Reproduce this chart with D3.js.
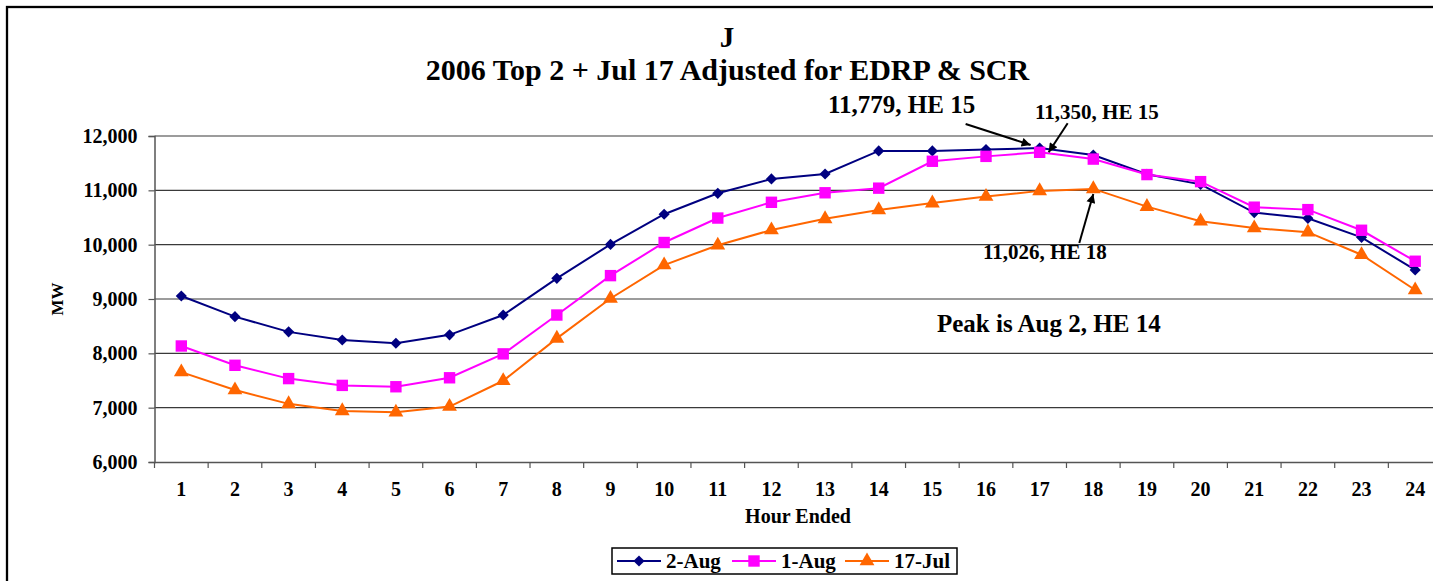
<!DOCTYPE html>
<html>
<head>
<meta charset="utf-8">
<script src="https://cdn.jsdelivr.net/npm/d3@7"></script>
<style>
  body { margin: 0; background: #fff; }
  svg { display: block; font-family: "Liberation Serif", "Times New Roman", serif; font-weight: bold; }
</style>
</head>
<body>
<svg id="chart"></svg>
<script>
// hours 1..24 and the three load days (MW)
var hours = d3.range(1, 25);
var seriesNames = ["2-Aug", "1-Aug", "17-Jul"];
var aug2 = [9055, 8675, 8395, 8245, 8185, 8340, 8705, 9380, 10005, 10560, 10945, 11210, 11300, 11725, 11725, 11750, 11779, 11650, 11295, 11110, 10590, 10485, 10135, 9535];
var aug1 = [8135, 7780, 7535, 7410, 7385, 7550, 7990, 8705, 9430, 10040, 10490, 10780, 10955, 11040, 11535, 11625, 11700, 11575, 11290, 11160, 10690, 10645, 10265, 9695];
var jul17 = [7655, 7325, 7070, 6940, 6915, 7020, 7495, 8275, 9010, 9625, 9990, 10270, 10475, 10640, 10765, 10885, 10990, 11026, 10700, 10430, 10305, 10230, 9815, 9165];
var yTicks = [6000, 7000, 8000, 9000, 10000, 11000, 12000];

var width = 1433, height = 581;
var svg = d3.select("#chart").attr("width", width).attr("height", height);

// outer chart border (runs off the right and bottom edges)
svg.append("rect").attr("x", 7).attr("y", 7).attr("width", 1500).attr("height", 700)
  .attr("fill", "none").attr("stroke", "#000").attr("stroke-width", 2.3);

var x = d3.scaleBand().domain(hours).range([154.5, 1442]).padding(0);
var y = d3.scaleLinear().domain([6000, 12000]).range([462, 136]);

// gridlines
svg.append("g").selectAll("line").data(yTicks.slice(1)).enter().append("line")
  .attr("x1", 154.5).attr("x2", 1442)
  .attr("y1", function (d) { return y(d); }).attr("y2", function (d) { return y(d); })
  .attr("stroke", "#3a3a3a").attr("stroke-width", 1.2);

// y axis
var yAxis = d3.axisLeft(y).tickValues(yTicks).tickSize(6).tickPadding(11).tickFormat(d3.format(","));
var gy = svg.append("g").attr("transform", "translate(154.5,0)").call(yAxis);
gy.select(".domain").attr("stroke", "#555").attr("stroke-width", 1.5);
gy.selectAll(".tick line").attr("stroke", "#555").attr("stroke-width", 1.2);
gy.selectAll("text").attr("font-size", 20).attr("font-family", "Liberation Serif").attr("fill", "#000");

// x axis: labels at band centres, ticks at band edges
var xAxis = d3.axisBottom(x).tickSize(0).tickPadding(20);
var gx = svg.append("g").attr("transform", "translate(0,462)").call(xAxis);
gx.select(".domain").attr("stroke", "#555").attr("stroke-width", 1.5);
gx.selectAll("text").attr("font-size", 20).attr("font-family", "Liberation Serif").attr("fill", "#000");
svg.append("g").selectAll("line").data(hours).enter().append("line")
  .attr("x1", function (d) { return x(d); }).attr("x2", function (d) { return x(d); })
  .attr("y1", 462).attr("y2", 468).attr("stroke", "#555").attr("stroke-width", 1.2);

// titles
svg.append("text").attr("x", 727).attr("y", 47).attr("text-anchor", "middle").attr("font-size", 29).text("J");
svg.append("text").attr("x", 727.5).attr("y", 80).attr("text-anchor", "middle").attr("font-size", 30)
  .text("2006 Top 2 + Jul 17 Adjusted for EDRP & SCR");
svg.append("text").attr("x", 798).attr("y", 523).attr("text-anchor", "middle").attr("font-size", 20).text("Hour Ended");
svg.append("text").attr("transform", "translate(63,299) rotate(-90)").attr("text-anchor", "middle")
  .attr("font-size", 17).text("MW");

// series
var series = [
  { name: seriesNames[0], values: aug2, color: "#000080", shape: d3.symbolSquare, size: 62, rot: 45 },
  { name: seriesNames[1], values: aug1, color: "#FF00FF", shape: d3.symbolSquare, size: 130, rot: 0 },
  { name: seriesNames[2], values: jul17, color: "#FF6600", shape: d3.symbolTriangle, size: 95, rot: 0 }
];
var line = d3.line()
  .x(function (d, i) { return x(hours[i]) + x.bandwidth() / 2; })
  .y(function (d) { return y(d); });

series.forEach(function (s) {
  svg.append("path").datum(s.values).attr("d", line)
    .attr("fill", "none").attr("stroke", s.color).attr("stroke-width", 2);
  svg.append("g").selectAll("path").data(s.values).enter().append("path")
    .attr("d", d3.symbol().type(s.shape).size(s.size))
    .attr("transform", function (d, i) {
      return "translate(" + (x(hours[i]) + x.bandwidth() / 2) + "," + y(d) + ") rotate(" + s.rot + ")";
    })
    .attr("fill", s.color);
});

// annotations
var defs = svg.append("defs");
defs.append("marker").attr("id", "arrow").attr("viewBox", "0 0 10 10").attr("refX", 10).attr("refY", 5)
  .attr("markerWidth", 5).attr("markerHeight", 4.5).attr("orient", "auto")
  .append("path").attr("d", "M0,0L10,5L0,10z").attr("fill", "#000");

function cx(h) { return x(h) + x.bandwidth() / 2; }
var arrows = [
  { x1: cx(17) - 74, y1: y(aug2[16]) - 24, x2: cx(17) - 9, y2: y(aug2[16]) - 3 },
  { x1: cx(17) + 28, y1: y(aug1[16]) - 29, x2: cx(17) + 9, y2: y(aug1[16]) },
  { x1: cx(18) - 14, y1: y(jul17[17]) + 54, x2: cx(18), y2: y(jul17[17]) + 5 }
];
svg.append("g").selectAll("line").data(arrows).enter().append("line")
  .attr("x1", function (d) { return d.x1; }).attr("y1", function (d) { return d.y1; })
  .attr("x2", function (d) { return d.x2; }).attr("y2", function (d) { return d.y2; })
  .attr("stroke", "#000").attr("stroke-width", 2).attr("marker-end", "url(#arrow)");

svg.append("text").attr("x", 828).attr("y", 113).attr("font-size", 25).text("11,779, HE 15");
svg.append("text").attr("x", 1035).attr("y", 119).attr("font-size", 21).text("11,350, HE 15");
svg.append("text").attr("x", 983).attr("y", 259).attr("font-size", 21).text("11,026, HE 18");
svg.append("text").attr("x", 937).attr("y", 332).attr("font-size", 25).text("Peak is Aug 2, HE 14");

// legend
var legend = svg.append("g").attr("transform", "translate(612,548)");
legend.append("rect").attr("width", 345).attr("height", 26).attr("fill", "#fff")
  .attr("stroke", "#000").attr("stroke-width", 1.5);
var legendX = [5, 120, 233];
series.forEach(function (s, i) {
  var g = legend.append("g").attr("transform", "translate(" + legendX[i] + ",13)");
  g.append("line").attr("x1", 0).attr("x2", 44).attr("stroke", s.color).attr("stroke-width", 2);
  g.append("path").attr("d", d3.symbol().type(s.shape).size(s.size))
    .attr("transform", "translate(22,0) rotate(" + s.rot + ")").attr("fill", s.color);
  g.append("text").attr("x", 49).attr("y", 7).attr("font-size", 21).text(s.name);
});
</script>
</body>
</html>
